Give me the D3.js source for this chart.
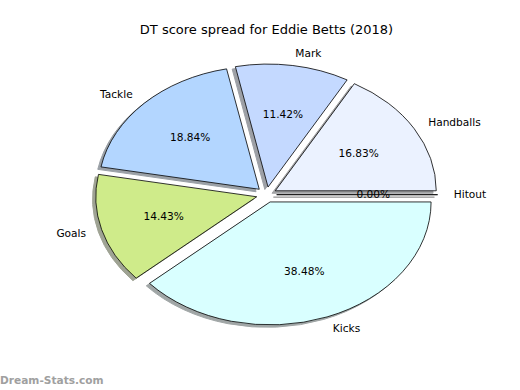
<!DOCTYPE html>
<html>
<head>
<meta charset="utf-8">
<script src="https://cdn.jsdelivr.net/npm/d3@7"></script>
<style>
  body { margin: 0; background: #fff; }
  svg { display: block; font-family: "DejaVu Sans", sans-serif; }
</style>
</head>
<body>
<div class="viz"></div>
<script>
const width = 520;
const height = 390;

// data (percent of DT score)
const categories = ["Handballs", "Mark", "Tackle", "Goals", "Kicks", "Hitout"];
const values = [16.83, 11.42, 18.84, 14.43, 38.48, 0.00];
const colors = ["#ebf2ff", "#c4d9ff", "#b3d6ff", "#cfeb8a", "#d9ffff", "#e8e8e8"];

// pie geometry (ellipse because axes are not equal aspect)
const cx = 266.5, cy = 194.7;
const rx = 161, ry = 123;
const explode = 0.063;

const svg = d3.select(".viz")
    .append("svg")
    .attr("width", width)
    .attr("height", height);

// counterclockwise from 3 o'clock like matplotlib
const pie = d3.pie()
    .sort(null)
    .value(d => d.value)
    .startAngle(Math.PI / 2)
    .endAngle(Math.PI / 2 - 2 * Math.PI);

const data = categories.map((c, i) => ({ name: c, value: values[i], color: colors[i] }));
const arcs = pie(data);

const arc = d3.arc().innerRadius(0).outerRadius(1);

// mid angle in d3 terms -> unit direction on screen
arcs.forEach(d => {
    const a = (d.startAngle + d.endAngle) / 2;
    d.ux = Math.sin(a);
    d.uy = -Math.cos(a);
    d.x0 = cx + explode * rx * d.ux;
    d.y0 = cy + explode * ry * d.uy;
});

function shadowColor(c) {
    const col = d3.rgb(c);
    // 0.3 * facecolor at alpha 0.5 over white
    return d3.rgb(col.r * 0.15 + 127.5, col.g * 0.15 + 127.5, col.b * 0.15 + 127.5).toString();
}

// shadows first
svg.append("g").selectAll("path")
    .data(arcs)
    .enter()
    .append("path")
    .attr("transform", d => `translate(${d.x0 - 0.02 * rx},${d.y0 + 0.02 * ry}) scale(${rx},${ry})`)
    .attr("d", arc)
    .attr("fill", d => shadowColor(d.data.color))
    .attr("stroke", d => shadowColor(d.data.color))
    .attr("stroke-width", 1)
    .attr("vector-effect", "non-scaling-stroke");

// wedges
svg.append("g").selectAll("path")
    .data(arcs)
    .enter()
    .append("path")
    .attr("transform", d => `translate(${d.x0},${d.y0}) scale(${rx},${ry})`)
    .attr("d", arc)
    .attr("fill", d => d.data.color)
    .attr("stroke", "#000")
    .attr("stroke-width", 0.8)
    .attr("stroke-linejoin", "round")
    .attr("vector-effect", "non-scaling-stroke");

// category labels
svg.append("g").selectAll("text")
    .data(arcs)
    .enter()
    .append("text")
    .attr("x", d => d.x0 + 1.1 * rx * d.ux)
    .attr("y", d => d.y0 + 1.1 * ry * d.uy)
    .attr("dy", "0.35em")
    .attr("text-anchor", d => d.ux >= 0 ? "start" : "end")
    .style("font-size", "10.6px")
    .style("fill", "#000")
    .text(d => d.data.name);

// percent labels
svg.append("g").selectAll("text")
    .data(arcs)
    .enter()
    .append("text")
    .attr("x", d => d.x0 + 0.6 * rx * d.ux)
    .attr("y", d => d.y0 + 0.6 * ry * d.uy)
    .attr("dy", "0.35em")
    .attr("text-anchor", "middle")
    .style("font-size", "10.6px")
    .style("fill", "#000")
    .text(d => d.data.value.toFixed(2) + "%");

// title
svg.append("text")
    .attr("x", cx)
    .attr("y", 34)
    .attr("text-anchor", "middle")
    .style("font-size", "13px")
    .text("DT score spread for Eddie Betts (2018)");

// watermark
svg.append("text")
    .attr("x", 0)
    .attr("y", 384)
    .style("font-size", "10.6px")
    .style("font-weight", "bold")
    .style("fill", "#a0a0a0")
    .text("Dream-Stats.com");
</script>
</body>
</html>
